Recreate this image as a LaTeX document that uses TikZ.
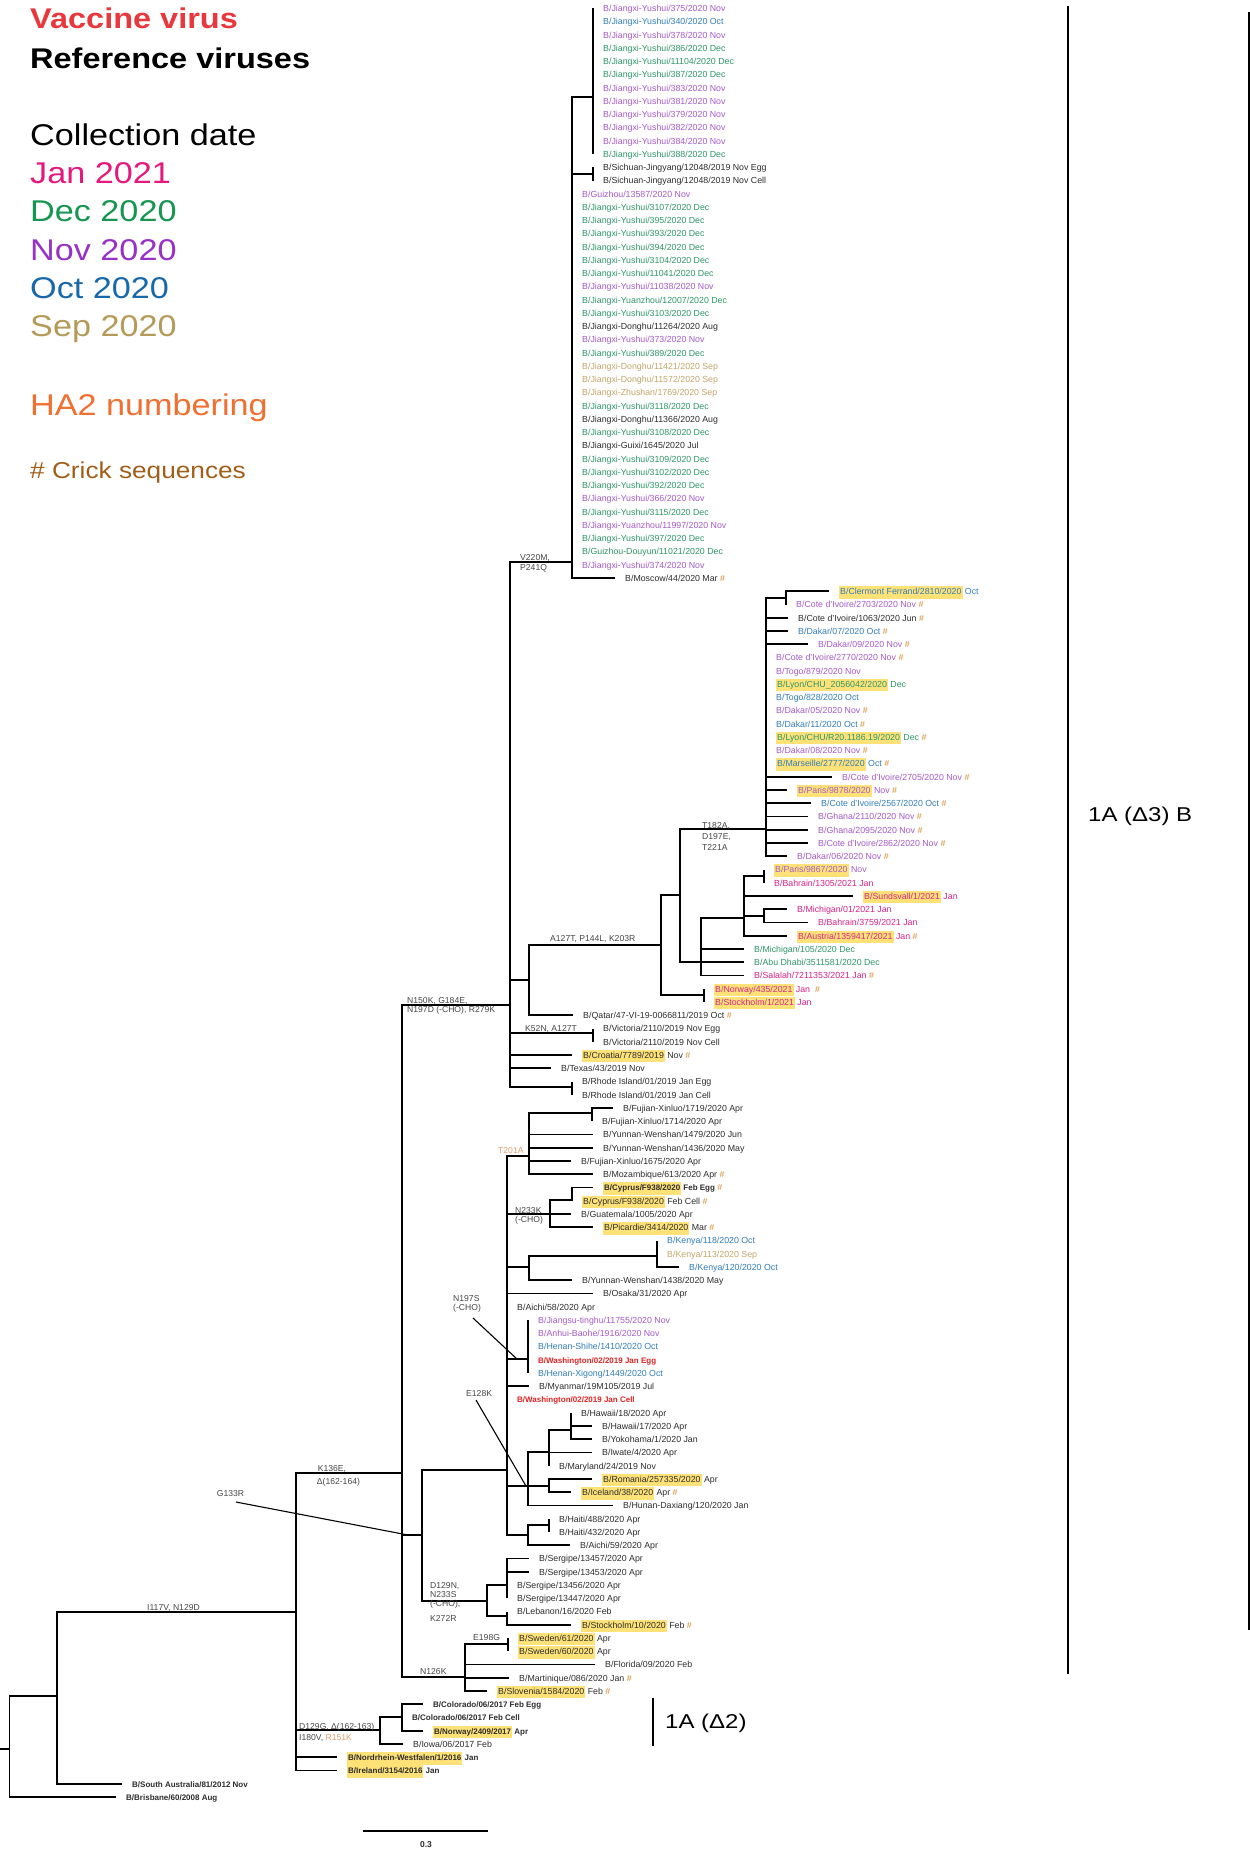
\documentclass[tikz,border=0pt]{standalone}
\usepackage{fontspec}
\setmainfont{Liberation Sans}
\newfontfamily\legfont[FakeStretch=1.14]{Liberation Sans}
\newfontfamily\cladefont[FakeStretch=1.2]{Liberation Sans}

% text colours of the leaves (collection month)
\definecolor{nov}{RGB}{165,90,200}
\definecolor{dec}{RGB}{45,150,105}
\definecolor{oct}{RGB}{50,125,185}
\definecolor{sep}{RGB}{195,165,105}
\definecolor{jan}{RGB}{215,35,135}
\definecolor{blk}{RGB}{45,45,45}
\definecolor{vac}{RGB}{225,35,35}
\definecolor{crk}{RGB}{205,140,45}
\definecolor{hlc}{RGB}{254,226,120}
\definecolor{mutc}{RGB}{70,70,70}
\definecolor{tanc}{RGB}{225,160,110}
% legend colours
\definecolor{lgvac}{RGB}{232,56,61}
\definecolor{lgjan}{RGB}{229,25,125}
\definecolor{lgdec}{RGB}{22,150,80}
\definecolor{lgnov}{RGB}{150,50,200}
\definecolor{lgoct}{RGB}{25,105,170}
\definecolor{lgsep}{RGB}{180,155,90}
\definecolor{lgha}{RGB}{240,112,50}
\definecolor{lgcrk}{RGB}{160,95,25}

\newcommand\lfont{\fontsize{8.8}{10.5}\selectfont}
\newcommand\mfont{\fontsize{8.6}{10}\selectfont}
\newcommand\bld[1]{{\fontsize{8.0}{10.5}\selectfont\bfseries #1}}
\newcommand\cN[1]{\textcolor{nov}{#1}}
\newcommand\cD[1]{\textcolor{dec}{#1}}
\newcommand\cO[1]{\textcolor{oct}{#1}}
\newcommand\cS[1]{\textcolor{sep}{#1}}
\newcommand\cJ[1]{\textcolor{jan}{#1}}
\newcommand\cV[1]{\textcolor{vac}{#1}}
\newcommand\ck{\textcolor{crk}{\#}}
\newcommand\hl[1]{{\setlength{\fboxsep}{1pt}\colorbox{hlc}{\strut #1}}}

% leaf: name, parent, tip x, row, label
\newcommand\lf[5]{%
  \pgfmathsetmacro\ry{8.3+13.25*#4}%
  \coordinate (#1) at (#3,\ry);%
  \draw[br] (#2) |- (#1);%
  \node[lbl] (#1-t) at ([xshift=10pt,yshift=-3.2pt]#1) {\strut #5};}
% internal node: name, parent, x, y
\newcommand\inode[4]{%
  \coordinate (#1) at (#3,#4);%
  \draw[br] (#2) |- (#1);}

\begin{document}
\begin{tikzpicture}[x=1pt,y=-1pt,
  br/.style={line width=1.8pt},
  lead/.style={line width=1.1pt},
  lbl/.style={anchor=base west,inner sep=0pt,font=\lfont,text=blk},
  mut/.style={anchor=base west,inner sep=0pt,font=\mfont,text=mutc},
  leg/.style={anchor=base west,inner sep=0pt}]
\fill[white] (0,0) rectangle (1250,1850);
\useasboundingbox (0,0) rectangle (1250,1850);

% ---------- legend ----------
\node[leg,text=lgvac,font=\legfont\fontsize{28.5}{30}\selectfont\bfseries] (lg1) at (30,28.3) {Vaccine virus};
\node[leg,text=black,font=\legfont\fontsize{28.5}{30}\selectfont\bfseries] (lg2) at (30,68.3) {Reference viruses};
\node[leg,text=black,font=\legfont\fontsize{30}{32}\selectfont] (lg3) at (30,145) {Collection date};
\node[leg,text=lgjan,font=\legfont\fontsize{30}{32}\selectfont] (lg4) at (30,183.3) {Jan 2021};
\node[leg,text=lgdec,font=\legfont\fontsize{30}{32}\selectfont] (lg5) at (30,221.7) {Dec 2020};
\node[leg,text=lgnov,font=\legfont\fontsize{30}{32}\selectfont] (lg6) at (30,260) {Nov 2020};
\node[leg,text=lgoct,font=\legfont\fontsize{30}{32}\selectfont] (lg7) at (30,298.3) {Oct 2020};
\node[leg,text=lgsep,font=\legfont\fontsize{30}{32}\selectfont] (lg8) at (30,336.7) {Sep 2020};
\node[leg,text=lgha,font=\legfont\fontsize{30}{32}\selectfont] (lg9) at (30,415) {HA2 numbering};
\node[leg,text=lgcrk,font=\legfont\fontsize{23}{25}\selectfont] (lg10) at (30,478.3) {\# Crick sequences};

% ---------- backbone ----------
\coordinate (stub) at (0,1749);
\coordinate (root) at (9.4,1749);
\draw[br] (stub) -- (root);
\inode{n57}{root}{57}{1696}
\lf{brisbane}{root}{116}{135}{\bld{B/Brisbane/60/2008 Aug}}
\lf{sa}{n57}{122}{134}{\bld{B/South Australia/81/2012 Nov}}
\inode{bb}{n57}{296}{1612}
\lf{nrw}{bb}{337}{132}{\bld{\hl{B/Nordrhein-Westfalen/1/2016} Jan}}
\lf{irl}{bb}{337}{133}{\bld{\hl{B/Ireland/3154/2016} Jan}}

% 1A (Delta2)
\inode{d129g}{bb}{380}{1730}
\inode{col}{d129g}{402}{1717}
\lf{coloegg}{col}{423}{128}{\bld{B/Colorado/06/2017 Feb Egg}}
\lf{colocell}{col}{402}{129}{\bld{B/Colorado/06/2017 Feb Cell}}
\lf{nor2409}{col}{423}{130}{\bld{\hl{B/Norway/2409/2017} Apr}}
\lf{iowa}{d129g}{403}{131}{B/Iowa/06/2017 Feb}

% K136E clade
\inode{k136}{bb}{402}{1473}

% N126K
\inode{n126}{k136}{465}{1677}
\inode{e198}{n126}{508}{1644}
\lf{swe61}{e198}{508}{123}{\hl{B/Sweden/61/2020} Apr}
\lf{swe60}{e198}{508}{124}{\hl{B/Sweden/60/2020} Apr}
\lf{florida}{n126}{595}{125}{B/Florida/09/2020 Feb}
\lf{martinique}{n126}{509}{126}{B/Martinique/086/2020 Jan \ck}
\lf{slovenia}{n126}{487}{127}{\hl{B/Slovenia/1584/2020} Feb \ck}

% G133R
\inode{g133}{k136}{422}{1535}
\inode{d129n}{g133}{487}{1601}
\inode{serg}{d129n}{507}{1585}
\lf{s13457}{serg}{529}{117}{B/Sergipe/13457/2020 Apr}
\lf{s13453}{serg}{529}{118}{B/Sergipe/13453/2020 Apr}
\lf{s13456}{serg}{507}{119}{B/Sergipe/13456/2020 Apr}
\lf{s13447}{serg}{507}{120}{B/Sergipe/13447/2020 Apr}
\inode{leb}{d129n}{507}{1616}
\lf{lebanon}{leb}{507}{121}{B/Lebanon/16/2020 Feb}
\lf{stock10}{leb}{571}{122}{\hl{B/Stockholm/10/2020} Feb \ck}

\inode{up}{g133}{507}{1470}
% T201A
\inode{t201}{up}{529}{1156}
\inode{fuj}{t201}{592}{1113}
\lf{fuj1719}{fuj}{613}{83}{B/Fujian-Xinluo/1719/2020 Apr}
\lf{fuj1714}{fuj}{592}{84}{B/Fujian-Xinluo/1714/2020 Apr}
\lf{yun1479}{t201}{593}{85}{B/Yunnan-Wenshan/1479/2020 Jun}
\lf{yun1436}{t201}{593}{86}{B/Yunnan-Wenshan/1436/2020 May}
\lf{fuj1675}{t201}{571}{87}{B/Fujian-Xinluo/1675/2020 Apr}
\lf{moz}{t201}{593}{88}{B/Mozambique/613/2020 Apr \ck}
% N233K
\inode{n233}{up}{550}{1214}
\inode{cyp}{n233}{572}{1200}
\lf{cypegg}{cyp}{593}{89}{\bld{\hl{B/Cyprus/F938/2020} Feb Egg} \ck}
\lf{cypcell}{cyp}{572}{90}{\hl{B/Cyprus/F938/2020} Feb Cell \ck}
\lf{guat}{n233}{571}{91}{B/Guatemala/1005/2020 Apr}
\lf{picardie}{n233}{593}{92}{\hl{B/Picardie/3414/2020} Mar \ck}
% Kenya
\inode{ken}{up}{529}{1267}
\inode{ken2}{ken}{657}{1256}
\lf{ken118}{ken2}{657}{93}{\cO{B/Kenya/118/2020 Oct}}
\lf{ken113}{ken2}{657}{94}{\cS{B/Kenya/113/2020 Sep}}
\lf{ken120}{ken2}{679}{95}{\cO{B/Kenya/120/2020 Oct}}
\lf{yun1438}{ken}{572}{96}{B/Yunnan-Wenshan/1438/2020 May}
\lf{osaka}{up}{593}{97}{B/Osaka/31/2020 Apr}
\lf{aichi58}{up}{507}{98}{B/Aichi/58/2020 Apr}
% N197S
\inode{wash}{up}{528}{1359}
\lf{jiangsu}{wash}{528}{99}{\cN{B/Jiangsu-tinghu/11755/2020 Nov}}
\lf{anhui}{wash}{528}{100}{\cN{B/Anhui-Baohe/1916/2020 Nov}}
\lf{hshihe}{wash}{528}{101}{\cO{B/Henan-Shihe/1410/2020 Oct}}
\lf{washegg}{wash}{528}{102}{\bld{\cV{B/Washington/02/2019 Jan Egg}}}
\lf{hxigong}{wash}{528}{103}{\cO{B/Henan-Xigong/1449/2020 Oct}}
\lf{myanmar}{up}{529}{104}{B/Myanmar/19M105/2019 Jul}
\lf{washcell}{up}{507}{105}{\bld{\cV{B/Washington/02/2019 Jan Cell}}}
% E128K
\inode{e128}{up}{528}{1486}
\inode{haw}{e128}{549}{1452}
\inode{haw2}{haw}{571}{1430}
\lf{haw18}{haw2}{571}{106}{B/Hawaii/18/2020 Apr}
\lf{haw17}{haw2}{592}{107}{B/Hawaii/17/2020 Apr}
\lf{yok}{haw2}{592}{108}{B/Yokohama/1/2020 Jan}
\lf{iwate}{haw}{592}{109}{B/Iwate/4/2020 Apr}
\lf{maryland}{haw}{549}{110}{B/Maryland/24/2019 Nov}
\inode{rom}{e128}{549}{1486}
\lf{romania}{rom}{592}{111}{\hl{B/Romania/257335/2020} Apr}
\lf{iceland}{rom}{571}{112}{\hl{B/Iceland/38/2020} Apr \ck}
\lf{hunan}{e128}{613}{113}{B/Hunan-Daxiang/120/2020 Jan}
% Haiti
\inode{hai}{up}{528}{1535}
\inode{hai2}{hai}{549}{1525}
\lf{haiti488}{hai2}{549}{114}{B/Haiti/488/2020 Apr}
\lf{haiti432}{hai2}{549}{115}{B/Haiti/432/2020 Apr}
\lf{aichi59}{hai}{570}{116}{B/Aichi/59/2020 Apr}

% ---------- N150K clade ----------
\inode{n150}{k136}{510}{1005}
\inode{v220}{n150}{572}{562}
\inode{ya}{v220}{593}{97}
\lf{r0}{ya}{593}{0}{\cN{B/Jiangxi-Yushui/375/2020 Nov}}
\lf{r1}{ya}{593}{1}{\cO{B/Jiangxi-Yushui/340/2020 Oct}}
\lf{r2}{ya}{593}{2}{\cN{B/Jiangxi-Yushui/378/2020 Nov}}
\lf{r3}{ya}{593}{3}{\cD{B/Jiangxi-Yushui/386/2020 Dec}}
\lf{r4}{ya}{593}{4}{\cD{B/Jiangxi-Yushui/11104/2020 Dec}}
\lf{r5}{ya}{593}{5}{\cD{B/Jiangxi-Yushui/387/2020 Dec}}
\lf{r6}{ya}{593}{6}{\cN{B/Jiangxi-Yushui/383/2020 Nov}}
\lf{r7}{ya}{593}{7}{\cN{B/Jiangxi-Yushui/381/2020 Nov}}
\lf{r8}{ya}{593}{8}{\cN{B/Jiangxi-Yushui/379/2020 Nov}}
\lf{r9}{ya}{593}{9}{\cN{B/Jiangxi-Yushui/382/2020 Nov}}
\lf{r10}{ya}{593}{10}{\cN{B/Jiangxi-Yushui/384/2020 Nov}}
\lf{r11}{ya}{593}{11}{\cD{B/Jiangxi-Yushui/388/2020 Dec}}
\inode{sich}{v220}{593}{174}
\lf{r12}{sich}{593}{12}{B/Sichuan-Jingyang/12048/2019 Nov Egg}
\lf{r13}{sich}{593}{13}{B/Sichuan-Jingyang/12048/2019 Nov Cell}
\lf{r14}{v220}{572}{14}{\cN{B/Guizhou/13587/2020 Nov}}
\lf{r15}{v220}{572}{15}{\cD{B/Jiangxi-Yushui/3107/2020 Dec}}
\lf{r16}{v220}{572}{16}{\cD{B/Jiangxi-Yushui/395/2020 Dec}}
\lf{r17}{v220}{572}{17}{\cD{B/Jiangxi-Yushui/393/2020 Dec}}
\lf{r18}{v220}{572}{18}{\cD{B/Jiangxi-Yushui/394/2020 Dec}}
\lf{r19}{v220}{572}{19}{\cD{B/Jiangxi-Yushui/3104/2020 Dec}}
\lf{r20}{v220}{572}{20}{\cD{B/Jiangxi-Yushui/11041/2020 Dec}}
\lf{r21}{v220}{572}{21}{\cN{B/Jiangxi-Yushui/11038/2020 Nov}}
\lf{r22}{v220}{572}{22}{\cD{B/Jiangxi-Yuanzhou/12007/2020 Dec}}
\lf{r23}{v220}{572}{23}{\cD{B/Jiangxi-Yushui/3103/2020 Dec}}
\lf{r24}{v220}{572}{24}{B/Jiangxi-Donghu/11264/2020 Aug}
\lf{r25}{v220}{572}{25}{\cN{B/Jiangxi-Yushui/373/2020 Nov}}
\lf{r26}{v220}{572}{26}{\cD{B/Jiangxi-Yushui/389/2020 Dec}}
\lf{r27}{v220}{572}{27}{\cS{B/Jiangxi-Donghu/11421/2020 Sep}}
\lf{r28}{v220}{572}{28}{\cS{B/Jiangxi-Donghu/11572/2020 Sep}}
\lf{r29}{v220}{572}{29}{\cS{B/Jiangxi-Zhushan/1769/2020 Sep}}
\lf{r30}{v220}{572}{30}{\cD{B/Jiangxi-Yushui/3118/2020 Dec}}
\lf{r31}{v220}{572}{31}{B/Jiangxi-Donghu/11366/2020 Aug}
\lf{r32}{v220}{572}{32}{\cD{B/Jiangxi-Yushui/3108/2020 Dec}}
\lf{r33}{v220}{572}{33}{B/Jiangxi-Guixi/1645/2020 Jul}
\lf{r34}{v220}{572}{34}{\cD{B/Jiangxi-Yushui/3109/2020 Dec}}
\lf{r35}{v220}{572}{35}{\cD{B/Jiangxi-Yushui/3102/2020 Dec}}
\lf{r36}{v220}{572}{36}{\cD{B/Jiangxi-Yushui/392/2020 Dec}}
\lf{r37}{v220}{572}{37}{\cN{B/Jiangxi-Yushui/366/2020 Nov}}
\lf{r38}{v220}{572}{38}{\cD{B/Jiangxi-Yushui/3115/2020 Dec}}
\lf{r39}{v220}{572}{39}{\cN{B/Jiangxi-Yuanzhou/11997/2020 Nov}}
\lf{r40}{v220}{572}{40}{\cD{B/Jiangxi-Yushui/397/2020 Dec}}
\lf{r41}{v220}{572}{41}{\cD{B/Guizhou-Douyun/11021/2020 Dec}}
\lf{r42}{v220}{572}{42}{\cN{B/Jiangxi-Yushui/374/2020 Nov}}
\lf{r43}{v220}{615}{43}{B/Moscow/44/2020 Mar \ck}

% A127T, P144L, K203R
\inode{a127}{n150}{529}{980}
\inode{a144}{a127}{661}{945}
\inode{n680}{a144}{680}{895}
\inode{t182}{n680}{766}{829}
\inode{cf}{t182}{786}{598}
\lf{clermont}{cf}{829}{44}{\cO{\hl{B/Clermont Ferrand/2810/2020} Oct}}
\lf{ci2703}{cf}{786}{45}{\cN{B/Cote d'Ivoire/2703/2020 Nov} \ck}
\lf{ci1063}{t182}{788}{46}{B/Cote d'Ivoire/1063/2020 Jun \ck}
\lf{dak07}{t182}{788}{47}{\cO{B/Dakar/07/2020 Oct} \ck}
\lf{dak09}{t182}{808}{48}{\cN{B/Dakar/09/2020 Nov} \ck}
\lf{ci2770}{t182}{766}{49}{\cN{B/Cote d'Ivoire/2770/2020 Nov} \ck}
\lf{togo879}{t182}{766}{50}{\cN{B/Togo/879/2020 Nov}}
\lf{lyon1}{t182}{766}{51}{\cD{\hl{B/Lyon/CHU\_2056042/2020} Dec}}
\lf{togo828}{t182}{766}{52}{\cO{B/Togo/828/2020 Oct}}
\lf{dak05}{t182}{766}{53}{\cN{B/Dakar/05/2020 Nov} \ck}
\lf{dak11}{t182}{766}{54}{\cO{B/Dakar/11/2020 Oct} \ck}
\lf{lyon2}{t182}{766}{55}{\cD{\hl{B/Lyon/CHU/R20.1186.19/2020} Dec} \ck}
\lf{dak08}{t182}{766}{56}{\cN{B/Dakar/08/2020 Nov} \ck}
\lf{marseille}{t182}{766}{57}{\cO{\hl{B/Marseille/2777/2020} Oct} \ck}
\lf{ci2705}{t182}{832}{58}{\cN{B/Cote d'Ivoire/2705/2020 Nov} \ck}
\lf{paris9878}{t182}{787}{59}{\cN{\hl{B/Paris/9878/2020} Nov} \ck}
\lf{ci2567}{t182}{811}{60}{\cO{B/Cote d'Ivoire/2567/2020 Oct} \ck}
\lf{gh2110}{t182}{808}{61}{\cN{B/Ghana/2110/2020 Nov} \ck}
\lf{gh2095}{t182}{808}{62}{\cN{B/Ghana/2095/2020 Nov} \ck}
\lf{ci2862}{t182}{808}{63}{\cN{B/Cote d'Ivoire/2862/2020 Nov} \ck}
\lf{dak06}{t182}{787}{64}{\cN{B/Dakar/06/2020 Nov} \ck}
\inode{n701}{n680}{701}{962}
\inode{n744}{n701}{744}{918}
\inode{par}{n744}{764}{876}
\lf{paris9867}{par}{764}{65}{\cN{\hl{B/Paris/9867/2020} Nov}}
\lf{bah1305}{par}{764}{66}{\cJ{B/Bahrain/1305/2021 Jan}}
\lf{sundsvall}{n744}{853}{67}{\cJ{\hl{B/Sundsvall/1/2021} Jan}}
\inode{mich}{n744}{764}{916}
\lf{mich01}{mich}{787}{68}{\cJ{B/Michigan/01/2021 Jan}}
\lf{bah3759}{mich}{808}{69}{\cJ{B/Bahrain/3759/2021 Jan}}
\lf{austria}{n744}{787}{70}{\cJ{\hl{B/Austria/1359417/2021} Jan} \ck}
\lf{mich105}{n701}{744}{71}{\cD{B/Michigan/105/2020 Dec}}
\lf{abudhabi}{n701}{744}{72}{\cD{B/Abu Dhabi/3511581/2020 Dec}}
\lf{salalah}{n701}{744}{73}{\cJ{B/Salalah/7211353/2021 Jan} \ck}
\inode{nw}{a144}{704}{995}
\lf{nor435}{nw}{704}{74}{\cJ{\hl{B/Norway/435/2021} Jan}\hspace{5pt}\ck}
\lf{stock1}{nw}{704}{75}{\cJ{\hl{B/Stockholm/1/2021} Jan}}
\lf{qatar}{a127}{573}{76}{B/Qatar/47-VI-19-0066811/2019 Oct \ck}
% K52N, A127T
\inode{k52}{n150}{593}{1033}
\lf{vicegg}{k52}{593}{77}{B/Victoria/2110/2019 Nov Egg}
\lf{viccell}{k52}{593}{78}{B/Victoria/2110/2019 Nov Cell}
\lf{croatia}{n150}{572}{79}{\hl{B/Croatia/7789/2019} Nov \ck}
\lf{texas}{n150}{551}{80}{B/Texas/43/2019 Nov}
\inode{ri}{n150}{572}{1087}
\lf{riegg}{ri}{572}{81}{B/Rhode Island/01/2019 Jan Egg}
\lf{ricell}{ri}{572}{82}{B/Rhode Island/01/2019 Jan Cell}

% ---------- substitutions on branches ----------
\node[mut] (mv1) at (520,560.5) {V220M,};
\node[mut] (mv2) at (520,570) {P241Q};
\node[mut] (mn1) at (407,1003) {N150K, G184E,};
\node[mut] (mn2) at (407,1012) {N197D (-CHO), R279K};
\node[mut] (ma1) at (550,941.5) {A127T, P144L, K203R};
\node[mut] (mk52) at (525,1031.5) {K52N, A127T};
\node[mut] (mt1) at (702,828.5) {T182A,};
\node[mut] (mt2) at (702,839.5) {D197E,};
\node[mut] (mt3) at (702,850.5) {T221A};
\node[mut,text=tanc] (mt201) at (498,1153.3) {T201A};
\node[mut] (mn233a) at (515,1213.5) {N233K};
\node[mut] (mn233b) at (515,1222.5) {(-CHO)};
\node[mut] (mn197a) at (453,1301.7) {N197S};
\node[mut] (mn197b) at (453,1310.5) {(-CHO)};
\coordinate (l197a) at (473,1318); \coordinate (l197b) at (517,1359);
\draw[lead] (l197a) -- (l197b);
\node[mut] (me128) at (466,1396) {E128K};
\coordinate (l128a) at (476,1400); \coordinate (l128b) at (526,1486);
\draw[lead] (l128a) -- (l128b);
\node[mut] (mg133) at (216.7,1496) {G133R};
\coordinate (l133a) at (236,1502); \coordinate (l133b) at (408,1535);
\draw[lead] (l133a) -- (l133b);
\node[mut] (mk1) at (317.7,1471) {K136E,};
\node[mut] (mk2) at (316.7,1484.5) {Δ(162-164)};
\node[mut] (mi117) at (147,1610) {I117V, N129D};
\node[mut] (md1) at (430,1588) {D129N,};
\node[mut] (md2) at (430,1597.5) {N233S};
\node[mut] (md3) at (430,1606) {(-CHO),};
\node[mut] (md4) at (430,1621.5) {K272R};
\node[mut] (mn126) at (420,1674.3) {N126K};
\node[mut] (me198) at (473,1640) {E198G};
\node[mut] (mg1) at (299,1729.5) {D129G, Δ(162-163)};
\node[mut] (mg2) at (299,1740) {I180V, \textcolor{tanc}{R151K}};

% ---------- clade brackets ----------
\coordinate (b3a) at (1068,6); \coordinate (b3b) at (1068,1674);
\draw[line width=1.6pt] (b3a) -- (b3b);
\node[anchor=base west,inner sep=0pt,font=\cladefont\fontsize{20}{22}\selectfont] (c3) at (1088,821.7) {1A (Δ3) B};
\coordinate (b2a) at (653,1698); \coordinate (b2b) at (653,1746);
\draw[line width=1.6pt] (b2a) -- (b2b);
\node[anchor=base west,inner sep=0pt,font=\cladefont\fontsize{20}{22}\selectfont] (c2) at (665,1728) {1A (Δ2)};
\coordinate (edgea) at (1249,12); \coordinate (edgeb) at (1249,1630);
\draw[line width=1.4pt] (edgea) -- (edgeb);

% ---------- scale bar ----------
\coordinate (sb1) at (363,1831); \coordinate (sb2) at (488,1831);
\draw[line width=1.5pt] (sb1) -- (sb2);
\node[inner sep=0pt,font=\fontsize{8.5}{10}\selectfont\bfseries,text=blk] (sbl) at (426,1845) {0.3};
\end{tikzpicture}
\end{document}
